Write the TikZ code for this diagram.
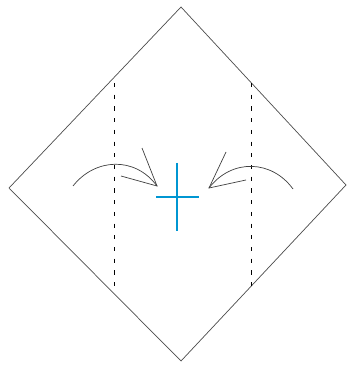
\documentclass[tikz,border=0pt]{standalone}
\usepackage{tikz}
\usetikzlibrary{calc}
\definecolor{crossblue}{RGB}{0,150,210}

\begin{document}
\begin{tikzpicture}[
    x=0.03cm, y=-0.03cm,
    paper/.style={draw=black!70, line width=0.6pt},
    foldline/.style={draw=black, line width=0.6pt, dash pattern=on 3.5pt off 6.5pt},
    foldarrow/.style={draw=black!75, line width=0.6pt},
    centermark/.style={crossblue, line width=0.9pt}
  ]
    \useasboundingbox (0,0) rectangle (347,374);

    % square sheet turned on its corner
    \coordinate (top) at (181,7);
    \coordinate (left) at (9,188);
    \coordinate (bottom) at (181,361);
    \coordinate (right) at (346,185);
    \draw[paper] (top) -- (right) -- (bottom) -- (left) -- cycle;

    % fold lines
    \draw[foldline] (114,83) -- (114,288);
    \draw[foldline] (251,83) -- (251,288);

    % centre mark
    \draw[centermark] (177,163) -- (177,231);
    \draw[centermark] (156,197) -- (199,197);

    % left flap arrow
    \coordinate (ltip) at (157,186);
    \draw[foldarrow] (73,186) .. controls (95,158) and (135,156) .. (ltip);
    \draw[foldarrow] (142,148) -- (ltip) -- (121,176);

    % right flap arrow
    \coordinate (rtip) at (209,188);
    \draw[foldarrow] (293,189) .. controls (272,160) and (232,158) .. (rtip);
    \draw[foldarrow] (226,152) -- (rtip) -- (246,180);
  \end{tikzpicture}
\end{document}
